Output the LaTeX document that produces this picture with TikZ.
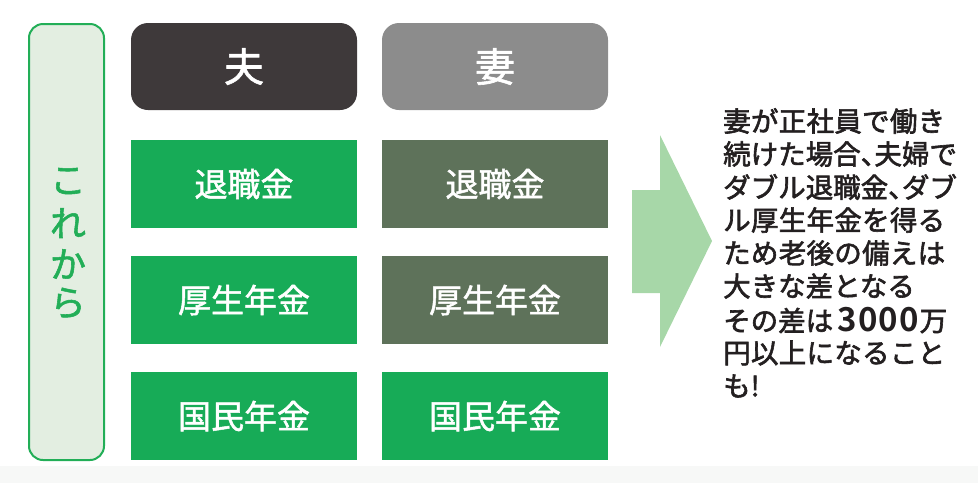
\documentclass[tikz,border=0pt]{standalone}
\usepackage{fontspec}
\newfontfamily\jpm[FakeBold=1.5]{Noto Sans CJK JP}
\newfontfamily\jpt[FakeBold=2.2]{Noto Sans CJK JP}
\newfontfamily\jpb{Noto Sans CJK JP Bold}
\usetikzlibrary{calc}
\definecolor{grn}{HTML}{17AB57}
\definecolor{olive}{HTML}{5E725A}
\definecolor{hdark}{HTML}{3E393A}
\definecolor{hgray}{HTML}{8C8C8C}
\definecolor{lblfill}{HTML}{E3EEE1}
\definecolor{lbldraw}{HTML}{22AE57}
\definecolor{arrowc}{HTML}{A7D7A8}
\definecolor{txt}{HTML}{231F20}
\definecolor{band}{HTML}{F7F8F7}
\tikzset{
  cell/.style={minimum width=226pt, minimum height=88pt, inner sep=0pt, text=white, font=\jpm\fontsize{33pt}{36pt}\selectfont},
  hdr/.style={cell, rounded corners=17pt, minimum height=87pt, font=\jpm\fontsize{40pt}{44pt}\selectfont},
  line/.style={anchor=west, inner sep=0pt, text=txt, font=\jpt\fontsize{27.5pt}{30pt}\selectfont},
  vchar/.style={text=lbldraw, inner sep=0pt, font=\jpm\fontsize{36pt}{38pt}\selectfont}
}
\newcommand{\jl}[1]{\makebox[222pt][s]{#1}}
\begin{document}
\begin{tikzpicture}[x=1pt,y=-1pt]
\useasboundingbox (0,0) rectangle (978,483);
\fill[band] (0,466) rectangle (978,483);
% left label
\node[draw=lbldraw, line width=2pt, fill=lblfill, rounded corners=14pt, minimum width=75pt, minimum height=436pt, inner sep=0pt] (lbl) at (66.5,242) {};
\node[vchar] (c1) at (68,181) {こ};
\node[vchar] (c2) at (68,223) {れ};
\node[vchar] (c3) at (68,264) {か};
\node[vchar] (c4) at (68,303) {ら};
% headers
\node[hdr, fill=hdark] (h1) at (244,66.5) {夫};
\node[hdr, fill=hgray] (h2) at (495,66.5) {妻};
% cells
\node[cell, fill=grn] (a1) at (244,184) {退職金};
\node[cell, fill=grn] (a2) at (244,300) {厚生年金};
\node[cell, fill=grn] (a3) at (244,416) {国民年金};
\node[cell, fill=olive] (b1) at (495,184) {退職金};
\node[cell, fill=olive] (b2) at (495,300) {厚生年金};
\node[cell, fill=grn] (b3) at (495,416) {国民年金};
% arrow
\fill[arrowc] (632,190) -- (660,190) -- (660,135) -- (712,241) -- (660,347) -- (660,293) -- (632,293) -- cycle;
% text
\node[line] (t1) at (723,121) {\jl{妻\hfill が\hfill 正\hfill 社\hfill 員\hfill で\hfill 働\hfill き}};
\node[line] (t2) at (723,154) {\jl{続\hfill け\hfill た\hfill 場\hfill 合\hfill 、\kern-0.5em\hfill 夫\hfill 婦\hfill で}};
\node[line] (t3) at (723,187) {\jl{ダ\hfill ブ\hfill ル\hfill 退\hfill 職\hfill 金\hfill 、\kern-0.5em\hfill ダ\hfill ブ}};
\node[line] (t4) at (723,220) {\jl{ル\hfill 厚\hfill 生\hfill 年\hfill 金\hfill を\hfill 得\hfill る}};
\node[line] (t5) at (723,253) {\jl{た\hfill め\hfill 老\hfill 後\hfill の\hfill 備\hfill え\hfill は}};
\node[line] (t6) at (723,286) {大きな差となる};
\node[line] (t7) at (723,320) {その差は\,{\jpb\fontsize{33pt}{36pt}\selectfont 3\kern1pt 0\kern1pt 0\kern1pt 0}\kern1pt 万};
\node[line] (t8) at (723,353) {\jl{円\hfill 以\hfill 上\hfill に\hfill な\hfill る\hfill こ\hfill と}};
\node[line] (t9) at (723,386) {も!};
\end{tikzpicture}
\end{document}
